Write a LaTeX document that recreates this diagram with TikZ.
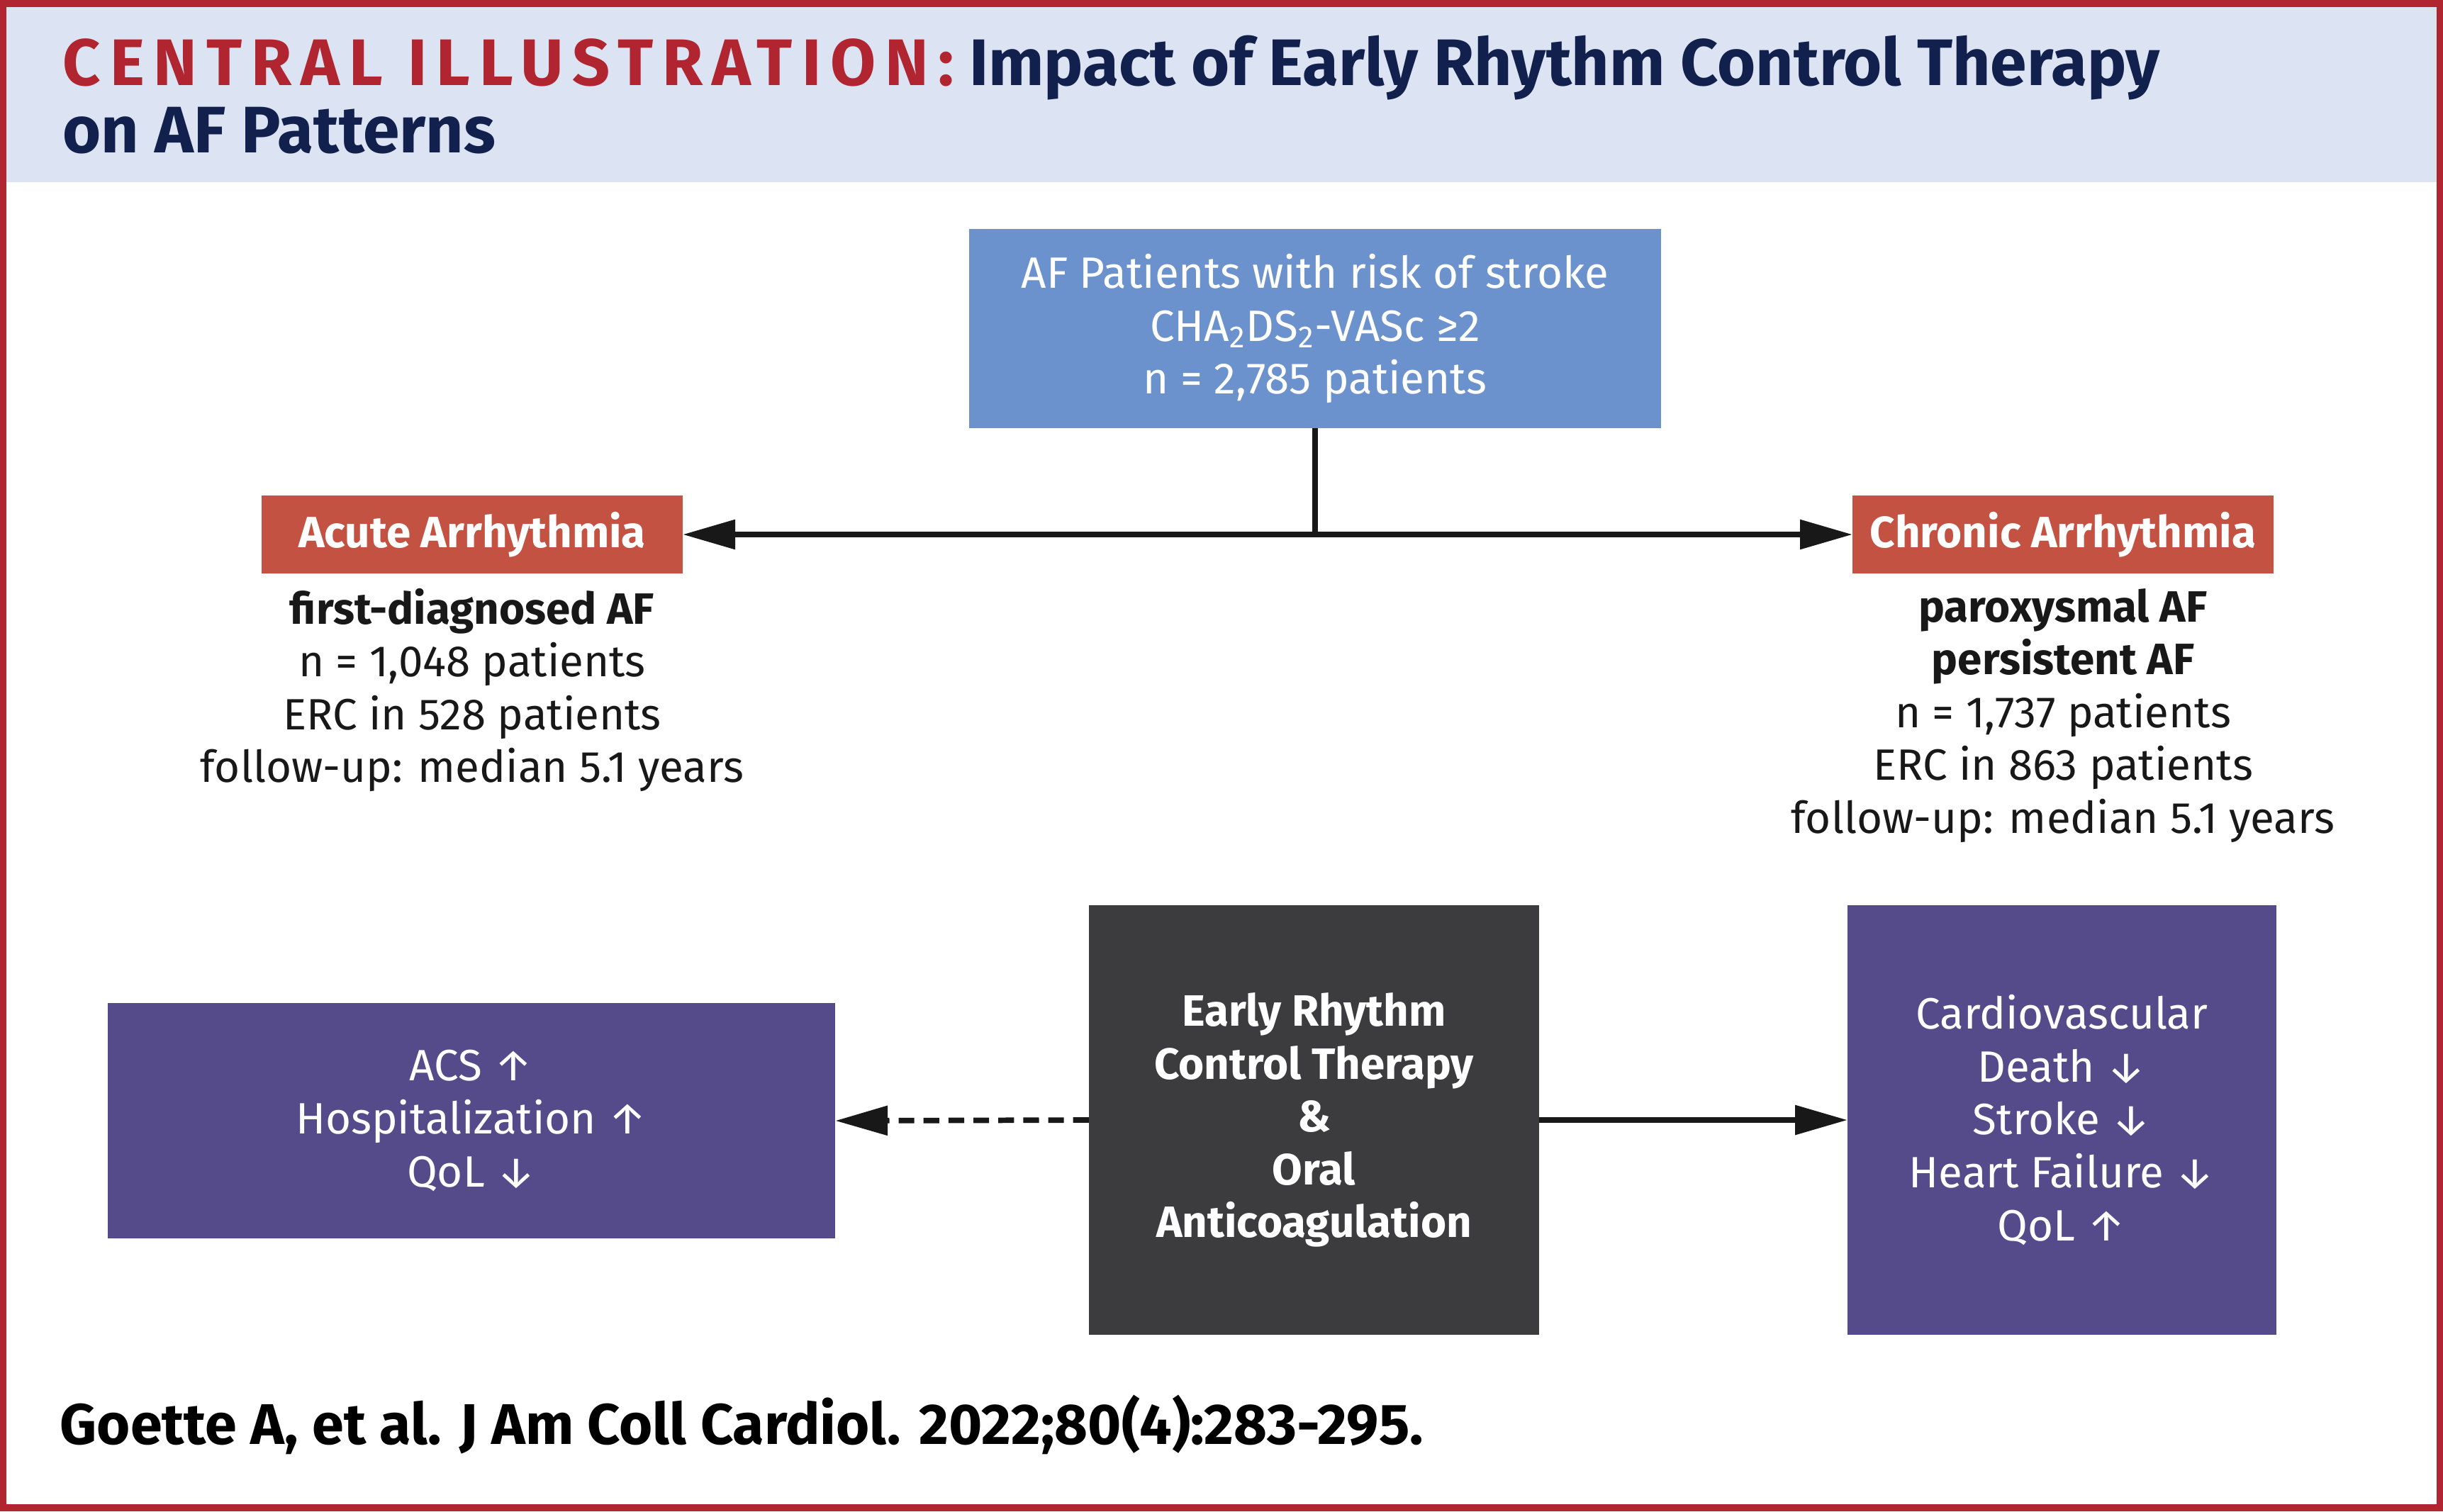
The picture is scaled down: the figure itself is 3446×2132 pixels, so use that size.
\documentclass[tikz,border=0pt]{standalone}
\usepackage{fontspec}
\setmainfont{Fira Sans}
\usetikzlibrary{arrows.meta}
\definecolor{frame}{RGB}{176,37,48}
\definecolor{headbg}{RGB}{220,228,243}
\definecolor{navy}{RGB}{18,32,77}
\definecolor{topblue}{RGB}{108,146,206}
\definecolor{armred}{RGB}{196,82,66}
\definecolor{purp}{RGB}{85,75,138}
\definecolor{darkbox}{RGB}{60,60,62}
\definecolor{ink}{RGB}{24,24,24}
\begin{document}
\begin{tikzpicture}[x=0.01cm,y=-0.01cm,
  box/.style={inner sep=0pt, outer sep=0pt, align=center, text=white},
  body/.style={font=\fontsize{17.6}{21.2}\selectfont},
  bodyb/.style={font=\fontsize{17.6}{21.2}\selectfont\bfseries},
  plain/.style={inner sep=0pt, outer sep=0pt, align=center, text=ink},
  conn/.style={draw=ink, line width=2.2pt},
  tipped/.style={-{Triangle[length=21pt,width=11.5pt]}}]
\fill[frame] (0,0) rectangle (3446,2132);
\fill[white] (9,10) rectangle (3437,2122);
\fill[headbg] (9,10) rectangle (3437,257);
\useasboundingbox (0,0) rectangle (3446,2132);
% title
\node[anchor=base west, inner sep=0pt, font=\fontsize{26.4}{29}\selectfont\bfseries] (title1) at (88,120)
  {\textcolor{frame}{\addfontfeature{LetterSpace=14}CENTRAL ILLUSTRATION:} \textcolor{navy}{Impact of Early Rhythm Control Therapy}};
\node[anchor=base west, inner sep=0pt, font=\fontsize{26.4}{29}\selectfont\bfseries, text=navy] (title2) at (88,215)
  {on AF Patterns};
% top box
\node[box, body, fill=topblue, minimum width=97.6mm, minimum height=28.1mm] (top) at (1855,463.5)
  {AF Patients with risk of stroke\\CHA\textsubscript{2}DS\textsubscript{2}-VASc ≥2\\n = 2,785 patients};
% arm boxes
\node[box, bodyb, fill=armred, minimum width=59.4mm, minimum height=11mm] (acute) at (666,754) {Acute Arrhythmia};
\node[box, bodyb, fill=armred, minimum width=59.4mm, minimum height=11mm] (chronic) at (2910,754) {Chronic Arrhythmia};
\node[plain, body, anchor=north] (acutetxt) at (666,830)
  {\textbf{first-diagnosed AF}\\n = 1,048 patients\\ERC in 528 patients\\follow-up: median 5.1 years};
\node[plain, body, anchor=north] (chronictxt) at (2910,830)
  {\textbf{paroxysmal AF}\\\textbf{persistent AF}\\n = 1,737 patients\\ERC in 863 patients\\follow-up: median 5.1 years};
% bottom boxes
\node[box, bodyb, fill=darkbox, minimum width=63.5mm, minimum height=60.6mm] (erc) at (1853.5,1580)
  {Early Rhythm\\Control Therapy\\\&\\Oral\\Anticoagulation};
\node[box, body, fill=purp, minimum width=102.6mm, minimum height=33.2mm] (neg) at (665,1581)
  {ACS ↑\\Hospitalization ↑\\QoL ↓};
\node[box, body, fill=purp, minimum width=60.5mm, minimum height=60.6mm] (pos) at (2908.5,1580)
  {Cardiovascular\\Death ↓\\Stroke ↓\\Heart Failure ↓\\QoL ↑};
% connectors
\coordinate (split) at (top.south |- acute.east);
\draw[conn] (top.south) -- (split);
\draw[conn, tipped] (split) -- (acute.east);
\draw[conn, tipped] (split) -- (chronic.west);
\draw[conn, dash pattern=on 6.3pt off 3.7pt, tipped] (erc.west) -- (neg.east);
\draw[conn, tipped] (erc.east) -- (pos.west);
% citation
\node[anchor=base west, inner sep=0pt, font=\fontsize{23}{27}\selectfont\bfseries, text=black] (cite) at (84,2037)
  {Goette A, et al. J Am Coll Cardiol. 2022;80(4):283-295.};
\end{tikzpicture}
\end{document}
